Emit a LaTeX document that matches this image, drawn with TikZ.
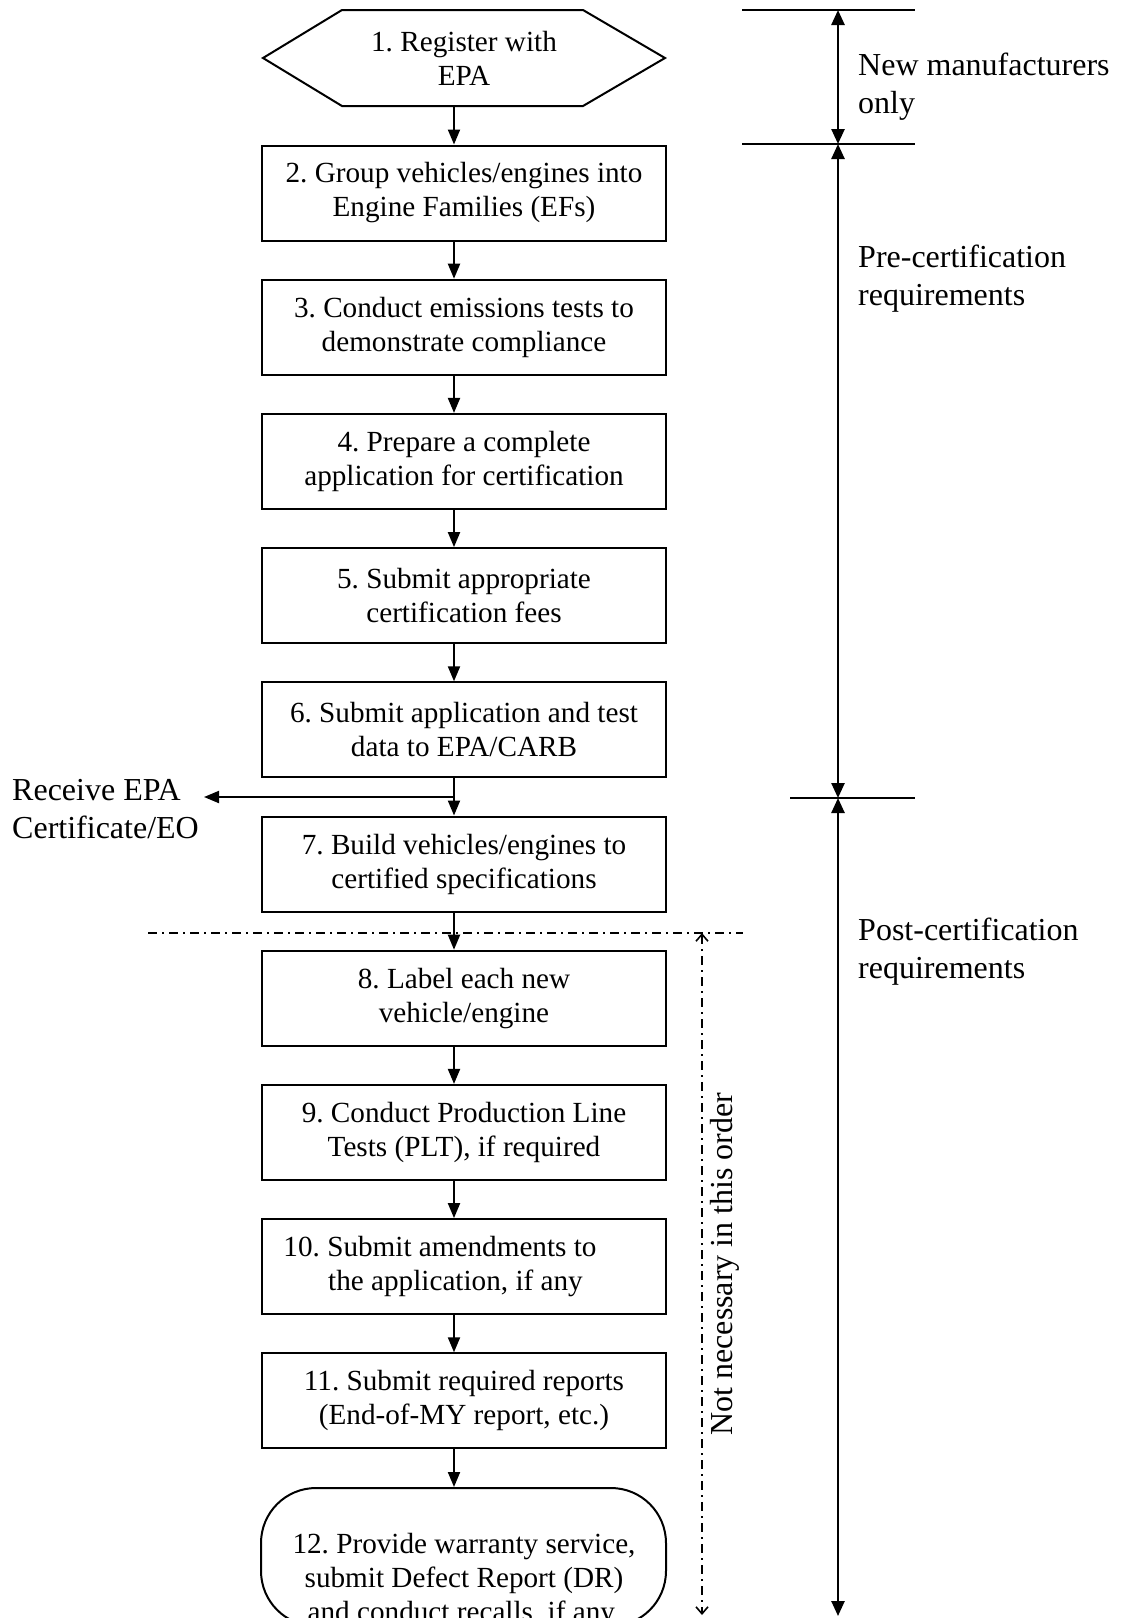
\documentclass[tikz,border=0pt]{standalone}
\usepackage{fontspec}
\setmainfont{Liberation Serif}
\usetikzlibrary{arrows.meta,calc}
\frenchspacing
\begin{document}
\begin{tikzpicture}[x=1pt,y=-1pt,
  font=\fontsize{29.2}{34}\selectfont\frenchspacing,
  box/.style={draw,line width=2pt,minimum width=404pt,minimum height=95pt,align=center,inner sep=0pt},
  txt/.style={align=left,inner sep=0pt,anchor=west,font=\fontsize{32}{38}\selectfont\frenchspacing},
  arr/.style={line width=2pt,-{Triangle[length=15pt,width=12pt]}},
  dbl/.style={line width=2.5pt,{Triangle[length=15pt,width=13pt]}-{Triangle[length=15pt,width=13pt]}},
  rule/.style={line width=2pt},
  dashdot/.style={line width=1.6pt,dash pattern=on 9pt off 5pt on 2pt off 5pt},
  darr/.style={dashdot,{Straight Barb[length=7pt,width=12pt]}-{Straight Barb[length=7pt,width=12pt]}}]
\useasboundingbox (0,0) rectangle (1120,1618);
\fill[white] (0,0) rectangle (1120,1618);
\coordinate (ax) at (454,0);
% hexagon
\draw[line width=2pt] (263,58) -- (342,10) -- (583,10) -- (665,58) -- (583,106) -- (342,106) -- cycle;
\node[inner sep=0pt,minimum width=402pt,minimum height=96pt,align=center] (n1) at (464,58) {1. Register with\\EPA};
% boxes
\node[box] (n2) at (464,193) {2. Group vehicles/engines into\\Engine Families (EFs)};
\node[box] (n3) at (464,327.2) {3. Conduct emissions tests to\\demonstrate compliance};
\node[box] (n4) at (464,461.4) {4. Prepare a complete\\application for certification};
\node[box] (n5) at (464,595.6) {5. Submit appropriate\\certification fees};
\node[box] (n6) at (464,729.8) {6. Submit application and test\\data to EPA/CARB};
\node[box] (n7) at (464,864) {7. Build vehicles/engines to\\certified specifications};
\node[box] (n8) at (464,998.2) {8. Label each new\\vehicle/engine};
\node[box] (n9) at (464,1132.4) {9. Conduct Production Line\\Tests (PLT), if required};
\node[box] (n10) at (464,1266.6) {10. Submit amendments to\hspace*{48pt}\\the application, if any\hspace*{17pt}};
\node[box] (n11) at (464,1400.8) {11. Submit required reports\\(End-of-MY report, etc.)};
\node[draw,line width=2pt,rounded corners=55pt,minimum width=405pt,minimum height=138pt,inner sep=0pt] (n12) at (463.5,1557) {};
\node[align=center,inner sep=0pt] (t12) at (464,1580) {12. Provide warranty service,\\submit Defect Report (DR)\\and conduct recalls, if any.};
% connectors
\draw[arr] (n1.south -| ax) -- (n2.north -| ax);
\draw[arr] (n2.south -| ax) -- (n3.north -| ax);
\draw[arr] (n3.south -| ax) -- (n4.north -| ax);
\draw[arr] (n4.south -| ax) -- (n5.north -| ax);
\draw[arr] (n5.south -| ax) -- (n6.north -| ax);
\draw[arr] (n6.south -| ax) -- (n7.north -| ax);
\draw[arr] (n7.south -| ax) -- (n8.north -| ax);
\draw[arr] (n8.south -| ax) -- (n9.north -| ax);
\draw[arr] (n9.south -| ax) -- (n10.north -| ax);
\draw[arr] (n10.south -| ax) -- (n11.north -| ax);
\draw[arr] (n11.south -| ax) -- (n12.north -| ax);
% receive
\node[txt] (recv) at (12,809) {Receive EPA\\Certificate/EO};
\coordinate (split) at (454,797);
\coordinate (recvtip) at (204,797);
\draw[arr] (split) -- (recvtip);
% right side
\draw[rule] (742,10) -- (915,10);
\draw[rule] (742,144) -- (915,144);
\draw[rule] (790,798) -- (915,798);
\coordinate (r1) at (838,10);
\coordinate (r2) at (838,144);
\coordinate (r3) at (838,798);
\coordinate (r4) at (838,1616);
\draw[dbl] (r1) -- (r2);
\draw[dbl] (r2) -- (r3);
\draw[dbl] (r3) -- (r4);
\node[txt] (lnew) at (858,87) {New manufacturers\\only};
\node[txt] (lpre) at (858,279) {Pre-certification\\requirements};
\node[txt] (lpost) at (858,952) {Post-certification\\requirements};
% dash-dot
\draw[dashdot] (148,933) -- (743,933);
\coordinate (d1) at (702,933);
\coordinate (d2) at (702,1615);
\draw[darr] (d1) -- (d2);
\node[rotate=90,inner sep=0pt,font=\fontsize{32}{38}\selectfont] (lnot) at (725,1264) {Not necessary in this order};
\end{tikzpicture}
\end{document}
